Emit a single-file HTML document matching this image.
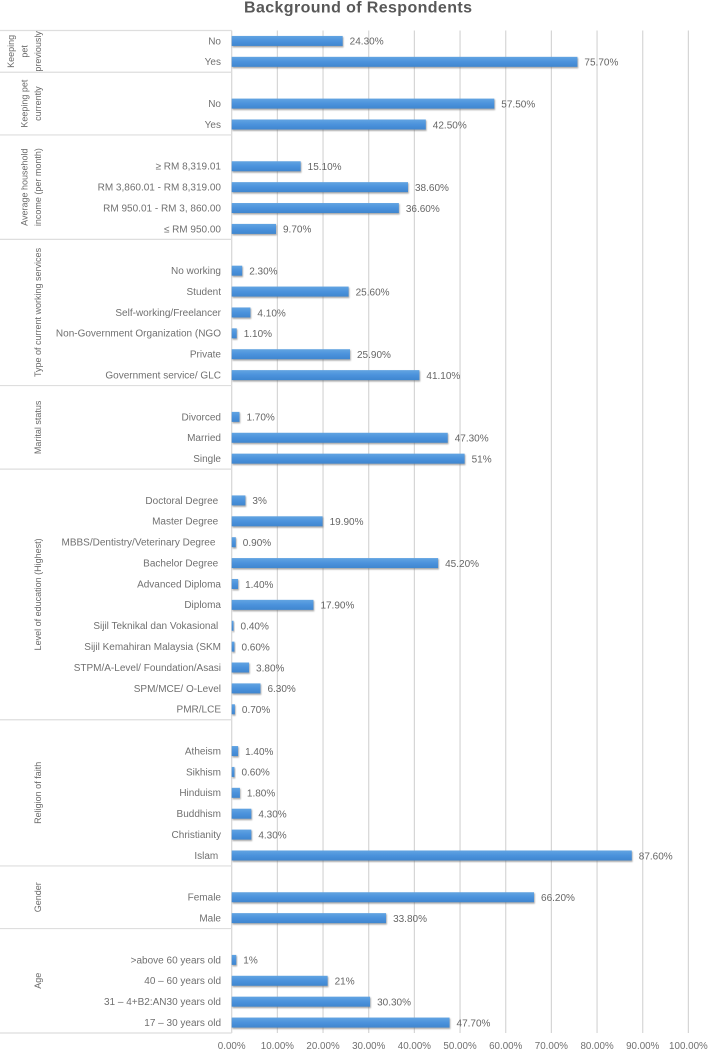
<!DOCTYPE html>
<html>
<head>
<meta charset="utf-8">
<title>Background of Respondents</title>
<style>
html,body{margin:0;padding:0;background:#fff;}
svg{display:block;}
text{font-family:"Liberation Sans",sans-serif;}
</style>
</head>
<body>
<svg id="chart" width="708" height="1050" viewBox="0 0 708 1050" xmlns="http://www.w3.org/2000/svg">
<defs>
<linearGradient id="barFill" x1="0" y1="0" x2="0" y2="1">
<stop offset="0" stop-color="#62a4e2"/>
<stop offset="0.5" stop-color="#4b92dc"/>
<stop offset="1" stop-color="#3f86cf"/>
</linearGradient>
<filter id="barShadow" x="-20%" y="-50%" width="140%" height="220%"><feGaussianBlur stdDeviation="0.8"/></filter>
<filter id="soft" x="-5%" y="-5%" width="110%" height="110%"><feGaussianBlur stdDeviation="0.3"/></filter>
</defs>
<text id="title" x="358" y="12.7" text-anchor="middle" font-size="16" font-weight="700" fill="#595959" textLength="228" lengthAdjust="spacing" filter="url(#soft)">Background of Respondents</text>
<g id="grid"></g>
<g id="table"></g>
<g id="bars"></g>
<g id="labels" filter="url(#soft)"></g>
</svg>
<script>
const categories = [
"No","Yes",
null,"No","Yes",
null,"≥ RM 8,319.01","RM 3,860.01 - RM 8,319.00","RM 950.01 - RM 3, 860.00","≤ RM 950.00",
null,"No working","Student","Self-working/Freelancer","Non-Government Organization (NGO","Private","Government service/ GLC",
null,"Divorced","Married","Single",
null,"Doctoral Degree\u00a0","Master Degree\u00a0","MBBS/Dentistry/Veterinary Degree\u00a0\u00a0","Bachelor Degree\u00a0","Advanced Diploma","Diploma","Sijil Teknikal dan Vokasional\u00a0","Sijil Kemahiran Malaysia (SKM","STPM/A-Level/ Foundation/Asasi","SPM/MCE/ O-Level","PMR/LCE",
null,"Atheism","Sikhism","Hinduism","Buddhism","Christianity","Islam\u00a0",
null,"Female","Male",
null,">above 60 years old","40 – 60 years old","31 – 4+B2:AN30 years old","17 – 30 years old"
];
const values = [
24.3,75.7,
null,57.5,42.5,
null,15.1,38.6,36.6,9.7,
null,2.3,25.6,4.1,1.1,25.9,41.1,
null,1.7,47.3,51,
null,3,19.9,0.9,45.2,1.4,17.9,0.4,0.6,3.8,6.3,0.7,
null,1.4,0.6,1.8,4.3,4.3,87.6,
null,66.2,33.8,
null,1,21,30.3,47.7
];
const valueLabels = [
"24.30%","75.70%",
null,"57.50%","42.50%",
null,"15.10%","38.60%","36.60%","9.70%",
null,"2.30%","25.60%","4.10%","1.10%","25.90%","41.10%",
null,"1.70%","47.30%","51%",
null,"3%","19.90%","0.90%","45.20%","1.40%","17.90%","0.40%","0.60%","3.80%","6.30%","0.70%",
null,"1.40%","0.60%","1.80%","4.30%","4.30%","87.60%",
null,"66.20%","33.80%",
null,"1%","21%","30.30%","47.70%"
];
const groupRowCounts = [2,3,5,7,4,12,7,3,5];
const groupTitleLines = [
["Keeping","pet","previously"],
["Keeping pet","currently"],
["Average household","income (per month)"],
["Type of current working services"],
["Marital status"],
["Level of education (Highest)"],
["Religion of faith"],
["Gender"],
["Age"]
];
const tickValues = [0,10,20,30,40,50,60,70,80,90,100];
const tickLabels = ["0.00%","10.00%","20.00%","30.00%","40.00%","50.00%","60.00%","70.00%","80.00%","90.00%","100.00%"];

const NS = "http://www.w3.org/2000/svg";
const plotTop = 30.5, plotBottom = 1033, x0 = 231.7, x100 = 688.4;
const band = (plotBottom - plotTop) / categories.length;
const xScale = v => x0 + (v / 100) * (x100 - x0);
const rowCenter = i => plotTop + band * (i + 0.5);
function make(tag, attrs, parent, txt) {
  const el = document.createElementNS(NS, tag);
  for (const k in attrs) el.setAttribute(k, attrs[k]);
  if (txt !== undefined) el.textContent = txt;
  parent.appendChild(el);
  return el;
}
const gridG = document.getElementById("grid");
const tableG = document.getElementById("table");
const barsG = document.getElementById("bars");
const labelsG = document.getElementById("labels");

tickValues.forEach((t, i) => {
  const line = make("line", {x1:xScale(t), x2:xScale(t), y1:plotTop, y2:plotBottom, stroke:"#d6d6d6", "stroke-width":1.2}, gridG);
  
  
  const label = make("text", {x:xScale(t), y:1049, "text-anchor":"middle", "font-size":"9.8", fill:"#707070"}, labelsG, tickLabels[i]);
  
  
});

let startRow = 0;
const topLine = make("line", {x1:0, x2:x0, y1:plotTop, y2:plotTop, stroke:"#dedede", "stroke-width":1.2}, tableG);


groupRowCounts.forEach((count, g) => {
  const endRow = startRow + count;
  const yEnd = plotTop + band * endRow;
  const sep = make("line", {x1:0, x2:x0, y1:yEnd, y2:yEnd, stroke:"#dedede", "stroke-width":1.2}, tableG);
  
  
  const yMid = plotTop + band * (startRow + endRow) / 2;
  const lines = groupTitleLines[g];
  lines.forEach((ln, j) => {
    const lx = 41 - (lines.length - 1 - j) * 13.5;
    const t = make("text", {transform:"translate(" + lx + "," + yMid + ") rotate(-90)", "text-anchor":"middle", "font-size":"9", fill:"#6a6a6a"}, labelsG, ln);
    
    
  });
  startRow = endRow;
});

categories.forEach((c, i) => {
  if (c === null) return;
  const y = rowCenter(i);
  const cat = make("text", {x:221, y:y + 3.4, "text-anchor":"end", "font-size":"10", fill:"#707070"}, labelsG, c);
  
  
  const w = xScale(values[i]) - x0;
  const sh = make("rect", {x:x0 + 0.8, y:y - 4, width:w, height:10.5, fill:"#666", opacity:0.55, filter:"url(#barShadow)"}, barsG);
  
  
  const bar = make("rect", {x:x0, y:y - 5, width:w, height:10, fill:"url(#barFill)"}, barsG);
  
  
  const val = make("text", {x:xScale(values[i]) + 7, y:y + 3.8, "font-size":"10", fill:"#666"}, labelsG, valueLabels[i]);
  
  
});
</script>
</body>
</html>
